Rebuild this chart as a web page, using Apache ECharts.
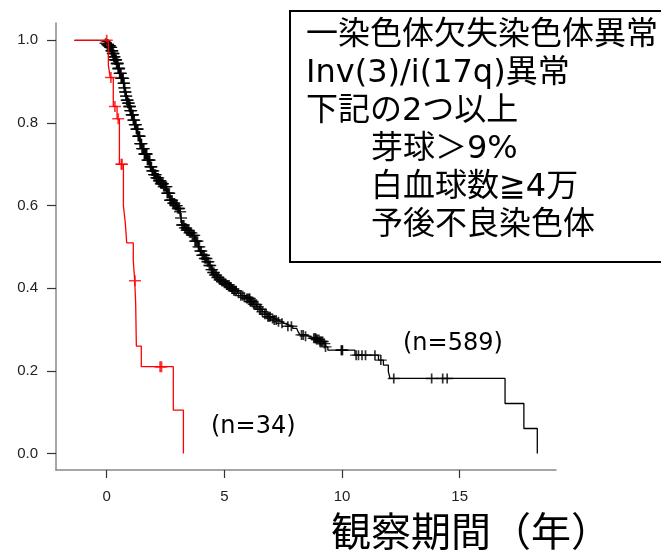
<!DOCTYPE html>
<html>
<head>
<meta charset="utf-8">
<script src="https://cdn.jsdelivr.net/npm/echarts@6.0.0/dist/echarts.min.js"></script>
<style>
  html, body { margin: 0; padding: 0; background: #fff; }
  #chart { width: 661px; height: 553px; }
</style>
</head>
<body>
<div id="chart"></div>
<script>
// Kaplan-Meier steps (time in years, survival after the step)
const blackTime = [-1.37, -0.3, -0.1, 0.0, 0.07, 0.14, 0.2, 0.25, 0.3, 0.35, 0.42, 0.48, 0.55, 0.62, 0.71, 0.75, 0.78,
  0.82, 0.85, 0.9, 0.95, 1.0, 1.05, 1.13, 1.19, 1.25, 1.33, 1.42, 1.5, 1.6, 1.72, 1.84, 1.92, 2.0, 2.1, 2.2, 2.3,
  2.41, 2.55, 2.69, 2.8, 2.9, 3.0, 3.12, 3.16, 3.19, 3.3, 3.4, 3.5, 3.61, 3.75, 3.89, 3.97, 4.05, 4.15, 4.25, 4.35,
  4.45, 4.52, 4.6, 4.7, 4.8, 4.88, 4.96, 5.1, 5.24, 5.3, 5.38, 5.55, 5.7, 5.82, 5.95, 6.09, 6.23, 6.37, 6.5, 6.6,
  6.72, 6.85, 6.97, 7.1, 7.25, 7.4, 7.55, 7.7, 7.9, 8.07, 8.15, 8.22, 8.45, 8.6, 8.75, 8.92, 9.05, 9.2, 9.3, 9.4,
  10.55, 11.55, 11.76, 11.97, 12.04, 16.93, 17.73, 18.3];
const blackSurv = [1.0, 0.997, 0.993, 0.99, 0.987, 0.983, 0.975, 0.968, 0.96, 0.953, 0.944, 0.932, 0.92, 0.908, 0.896, 0.885, 0.875,
  0.865, 0.855, 0.848, 0.84, 0.83, 0.82, 0.807, 0.796, 0.785, 0.768, 0.75, 0.738, 0.725, 0.71, 0.694, 0.684, 0.675, 0.667, 0.66, 0.653,
  0.646, 0.63, 0.613, 0.606, 0.60, 0.593, 0.585, 0.57, 0.553, 0.546, 0.54, 0.534, 0.528, 0.514, 0.50, 0.49, 0.48, 0.472, 0.464, 0.455,
  0.445, 0.438, 0.432, 0.426, 0.42, 0.416, 0.412, 0.408, 0.403, 0.398, 0.394, 0.388, 0.382, 0.378, 0.375, 0.368, 0.361, 0.355, 0.349, 0.343,
  0.337, 0.331, 0.327, 0.323, 0.319, 0.315, 0.312, 0.308, 0.303, 0.299, 0.293, 0.287, 0.284, 0.281, 0.279, 0.276, 0.271, 0.266, 0.258, 0.25,
  0.238, 0.226, 0.214, 0.198, 0.1816, 0.121, 0.0605, 0.0];
const blackCensor = [-0.05, 0.02, 0.04, 0.06, 0.08, 0.1, 0.12, 0.13, 0.15, 0.17, 0.19, 0.2, 0.22, 0.24, 0.26, 0.27, 0.29,
  0.3, 0.32, 0.33, 0.35, 0.37, 0.39, 0.4, 0.42, 0.44, 0.46, 0.47, 0.49, 0.5, 0.52, 0.53, 0.55, 0.57, 0.59, 0.6, 0.62,
  0.63, 0.65, 0.66, 0.68, 0.7, 0.72, 0.73, 0.75, 0.76, 0.78, 0.8, 0.82, 0.83, 0.85, 0.87, 0.89, 0.9, 0.92, 0.94, 0.96, 0.97, 0.99,
  1.0, 1.02, 1.04, 1.06, 1.08, 1.1, 1.11, 1.13, 1.15, 1.17, 1.19, 1.21, 1.22, 1.24, 1.26, 1.28, 1.3, 1.32, 1.34, 1.36,
  1.38, 1.4, 1.42, 1.44, 1.46, 1.48, 1.5, 1.53, 1.55, 1.58, 1.6, 1.62, 1.64, 1.66, 1.68, 1.7, 1.73, 1.76, 1.78, 1.8,
  1.83, 1.86, 1.88, 1.9, 1.93, 1.96, 1.98,
  2.01, 2.03, 2.06, 2.08, 2.11, 2.13, 2.16, 2.19, 2.22, 2.25, 2.28, 2.3, 2.33, 2.36, 2.39, 2.42, 2.45, 2.48, 2.51, 2.54,
  2.57, 2.6, 2.63, 2.66, 2.69, 2.72, 2.75, 2.78, 2.82, 2.85, 2.88, 2.92, 2.95, 2.98,
  3.02, 3.05, 3.08, 3.12, 3.16, 3.2, 3.24, 3.28, 3.32, 3.36, 3.4, 3.44, 3.48, 3.52, 3.56, 3.6, 3.64, 3.68, 3.72, 3.75,
  3.79, 3.82, 3.86, 3.9, 3.94, 3.98,
  4.02, 4.06, 4.1, 4.14, 4.17, 4.2, 4.24, 4.28, 4.32, 4.36, 4.4, 4.45, 4.48, 4.52, 4.56, 4.6, 4.65, 4.7, 4.75, 4.8, 4.85, 4.9, 4.95,
  5.0, 5.05, 5.1, 5.15, 5.2, 5.25, 5.28, 5.32, 5.36, 5.4, 5.45, 5.5, 5.6, 5.7, 5.78, 5.85, 5.95,
  6.0, 6.05, 6.08, 6.1, 6.13, 6.15, 6.2, 6.25, 6.3, 6.36, 6.42, 6.5, 6.55, 6.62, 6.72, 6.78, 6.85, 6.9, 6.95,
  7.05, 7.12, 7.2, 7.3, 7.45, 7.7, 7.85,
  8.28, 8.35, 8.45, 8.8, 8.85, 8.88, 8.92, 8.95, 9.02, 9.06, 9.1, 9.14, 9.18, 9.25, 9.3,
  9.97, 10.0, 10.02, 10.6, 10.7, 10.85, 11.0, 11.4, 11.65, 12.2, 13.81, 14.28, 14.47];

const redTime = [-1.37, 0.07, 0.15, 0.28, 0.44, 0.54, 0.71, 0.79, 0.85, 1.13, 1.19, 1.23, 1.26, 1.47, 2.83, 3.26];
const redSurv = [1.0, 0.94, 0.91, 0.84, 0.81, 0.70, 0.60, 0.558, 0.51, 0.466, 0.418, 0.366, 0.26, 0.21, 0.105, 0.0];
const redCensor = [0.0, 0.18, 0.35, 0.49, 0.62, 0.65, 1.2, 2.27, 2.33];

const xTicks = [0, 5, 10, 15];
const yTicks = [0, 0.2, 0.4, 0.6, 0.8, 1.0];

const boxLines = ['一染色体欠失染色体異常', 'Inv(3)/i(17q)異常', '下記の2つ以上', '芽球＞9%', '白血球数≧4万', '予後不良染色体'];
const boxIndent = [0, 0, 0, 1, 1, 1];

function steps(times, surv) {
  return times.map((t, i) => [t, surv[i]]);
}
function survAt(times, surv, t) {
  let s = surv[0];
  for (let i = 0; i < times.length; i++) if (times[i] <= t) s = surv[i];
  return s;
}
function marks(censor, times, surv) {
  return censor.map(t => [t, survAt(times, surv, t)]);
}

const plus = 'path://M0,4.3H10V5.7H0Z M4.3,0H5.7V10H4.3Z';
const jpFont = '"DejaVu Sans", "Noto Sans CJK JP", sans-serif';

const chart = echarts.init(document.getElementById('chart'));
chart.setOption({
  animation: false,
  grid: { left: 56, top: 23, width: 500, height: 447 },
  xAxis: {
    type: 'value', min: -2.155, max: 19.095,
    axisLine: { show: true, onZero: false, lineStyle: { color: '#888', width: 1.5 } },
    axisTick: { show: true, customValues: xTicks, length: 8, lineStyle: { color: '#333', width: 1.2 } },
    axisLabel: { customValues: xTicks, fontSize: 15, color: '#222', margin: 19, fontFamily: 'Liberation Sans, Arial, sans-serif' },
    splitLine: { show: false },
  },
  yAxis: {
    type: 'value', min: -0.04, max: 1.042,
    axisLine: { show: true, onZero: false, lineStyle: { color: '#888', width: 1.5 } },
    axisTick: { show: true, customValues: yTicks, length: 9, lineStyle: { color: '#333', width: 1.2 } },
    axisLabel: { customValues: yTicks, fontSize: 15, color: '#222', margin: 18, fontFamily: 'Liberation Sans, Arial, sans-serif',
      formatter: v => v.toFixed(1) },
    splitLine: { show: false },
  },
  series: [
    { name: 'n=589', type: 'line', step: 'end', symbol: 'none', data: steps(blackTime, blackSurv),
      lineStyle: { color: '#000', width: 1.3 } },
    { name: 'n=589 censored', type: 'scatter', symbol: plus, symbolSize: [12, 10], data: marks(blackCensor, blackTime, blackSurv),
      itemStyle: { color: '#000' } },
    { name: 'n=34', type: 'line', step: 'end', symbol: 'none', data: steps(redTime, redSurv),
      lineStyle: { color: '#ff0000', width: 1.3 } },
    { name: 'n=34 censored', type: 'scatter', symbol: plus, symbolSize: [12, 11], data: marks(redCensor, redTime, redSurv),
      itemStyle: { color: '#ff0000' } },
  ],
  graphic: [
    { type: 'rect', shape: { x: 290, y: 11, width: 400, height: 251 },
      style: { fill: '#fff', stroke: '#000', lineWidth: 2 }, z: 10 },
    ...boxLines.map((line, i) => ({
      type: 'text', z: 11,
      style: { text: line, x: boxIndent[i] ? 371 : 306, y: 36 + i * 38, font: '32px ' + jpFont,
        fill: '#000', textVerticalAlign: 'middle', verticalAlign: 'middle' },
    })),
    { type: 'text', style: { text: '(n=589)', x: 403, y: 344, font: '24px ' + jpFont, fill: '#000',
      textVerticalAlign: 'middle', verticalAlign: 'middle' } },
    { type: 'text', style: { text: '(n=34)', x: 211, y: 427, font: '24px ' + jpFont, fill: '#000',
      textVerticalAlign: 'middle', verticalAlign: 'middle' } },
    { type: 'text', style: { text: '観察期間（年）', x: 331, y: 531, font: '40px "Noto Sans CJK JP", sans-serif', fill: '#000',
      textVerticalAlign: 'middle', verticalAlign: 'middle' } },
  ],
});
</script>
</body>
</html>
